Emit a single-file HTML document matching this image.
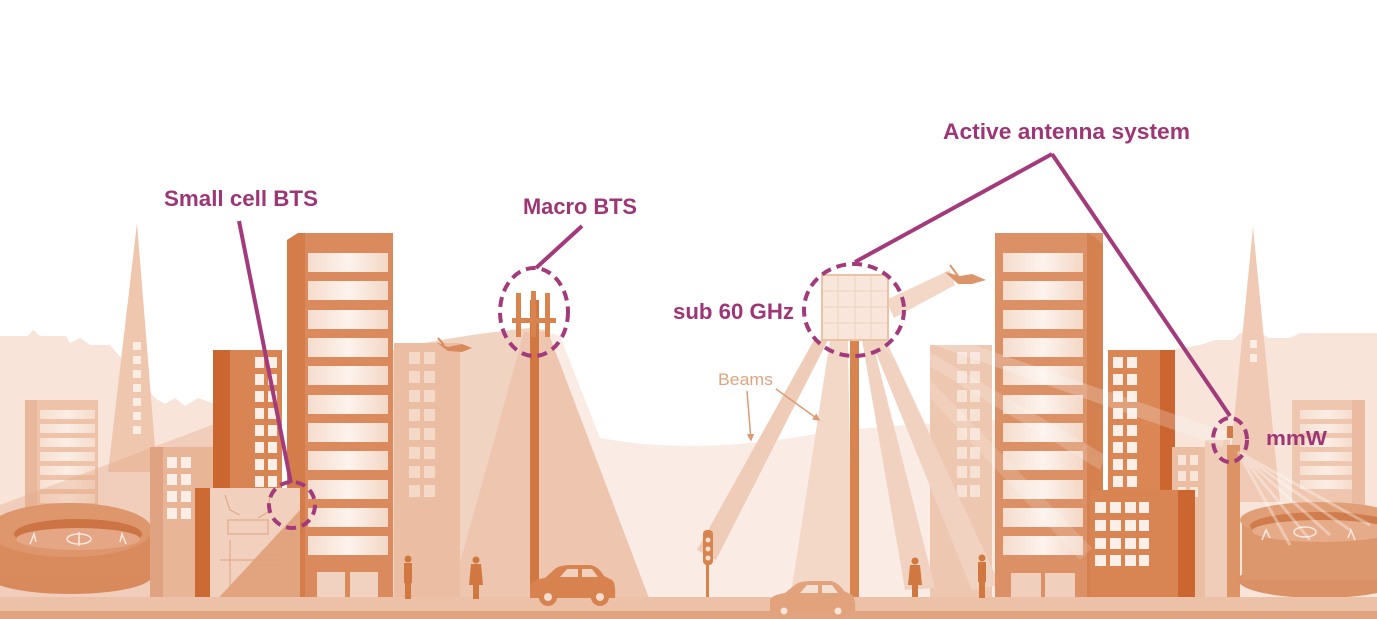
<!DOCTYPE html>
<html><head><meta charset="utf-8"><style>html,body{margin:0;padding:0;background:#fff;}svg{display:block}</style></head>
<body>
<svg width="1377" height="619" viewBox="0 0 1377 619" xmlns="http://www.w3.org/2000/svg">
<defs>
<linearGradient id="win" x1="0" x2="1"><stop offset="0" stop-color="#f5dccd"/><stop offset="0.5" stop-color="#fdf3ed"/><stop offset="1" stop-color="#f3d7c6"/></linearGradient>
<linearGradient id="winp" x1="0" x2="1"><stop offset="0" stop-color="#f6dfd1"/><stop offset="0.5" stop-color="#fbede5"/><stop offset="1" stop-color="#f5dccd"/></linearGradient>
<marker id="ah" viewBox="0 0 10 10" refX="8" refY="5" markerWidth="5" markerHeight="5" orient="auto"><path d="M0,0 L10,5 L0,10 Z" fill="#dc9a75"/></marker>
</defs>
<rect width="1377" height="619" fill="#fff"/>

<!-- far skyline left -->
<path d="M0,336 L28,336 L33,330 L40,336 L66,336 L70,343 L80,338 L90,345 L110,345 L140,380 L155,398 L165,404 L175,398 L185,406 L198,398 L215,404 L225,600 L0,600 Z" fill="#f8e4d9"/>
<!-- far skyline right -->
<path d="M1170,350 L1200,345 L1215,340 L1233,340 L1240,333 L1262,333 L1268,338 L1290,338 L1300,333 L1377,333 L1377,600 L1170,600 Z" fill="#f8e4d9"/>

<!-- pale hills middle -->
<path d="M540,330 L560,336 L600,438 Q700,456 820,433 Q900,424 1000,420 L1000,600 L540,600 Z" fill="#faece4"/>
<!-- hill left of macro -->
<path d="M393,350 Q450,336 530,328 L545,330 L545,600 L393,600 Z" fill="#f1d3c2"/>
<!-- macro beam -->
<path d="M524,332 L548,332 L652,606 L448,606 Z" fill="#eec6af"/>

<!-- left spire -->
<path d="M137,223 L157,472 L108,472 Z" fill="#efc6ae"/>
<g fill="#fbede4">
<rect x="133" y="342" width="8" height="8"/><rect x="133" y="356" width="8" height="8"/><rect x="133" y="370" width="8" height="8"/><rect x="133" y="384" width="8" height="8"/><rect x="133" y="398" width="8" height="8"/><rect x="133" y="412" width="8" height="8"/><rect x="133" y="426" width="8" height="8"/>
</g>
<!-- left small building -->
<rect x="25" y="400" width="73" height="110" fill="#eec3aa"/>
<rect x="25" y="400" width="12" height="110" fill="#e9b89c"/>
<g fill="url(#winp)">
<rect x="40" y="410" width="55" height="9"/><rect x="40" y="424" width="55" height="9"/><rect x="40" y="438" width="55" height="9"/><rect x="40" y="452" width="55" height="9"/><rect x="40" y="466" width="55" height="9"/><rect x="40" y="480" width="55" height="9"/><rect x="40" y="494" width="55" height="9"/>
</g>
<!-- diagonal hill shading left -->
<path d="M0,505 L225,420 L225,600 L0,600 Z" fill="#e2a584" opacity="0.35"/>

<!-- left stadium -->
<ellipse cx="70" cy="576" rx="82" ry="18" fill="#d88a5d"/>
<rect x="-12" y="530" width="164" height="46" fill="#d98b5e"/>
<ellipse cx="70" cy="530" rx="82" ry="27" fill="#de976d"/>
<ellipse cx="78" cy="534" rx="64" ry="15" fill="#cd7444"/>
<ellipse cx="78" cy="539" rx="62" ry="11" fill="#e4a684"/>
<g stroke="#fbe9df" stroke-width="1.5" fill="none">
<ellipse cx="79" cy="539" rx="12" ry="5"/><line x1="79" y1="532" x2="79" y2="546"/>
<path d="M30,544 L34,534 L36,542"/><path d="M126,544 L122,534 L120,542"/>
</g>

<!-- building 150-218 -->
<rect x="150" y="447" width="68" height="155" fill="#e8b596"/>
<rect x="150" y="447" width="13" height="155" fill="#e0a381"/>
<g fill="#fbeee6">
<rect x="167" y="457" width="10" height="11"/><rect x="181" y="457" width="10" height="11"/>
<rect x="167" y="474" width="10" height="11"/><rect x="181" y="474" width="10" height="11"/>
<rect x="167" y="491" width="10" height="11"/><rect x="181" y="491" width="10" height="11"/>
<rect x="167" y="508" width="10" height="11"/><rect x="181" y="508" width="10" height="11"/>
</g>

<!-- dark building 213-282 -->
<rect x="213" y="350" width="69" height="252" fill="#d98553"/>
<rect x="213" y="350" width="17" height="252" fill="#cc6630"/>
<g fill="#fbefe8">
<rect x="255" y="357" width="9" height="11"/><rect x="268" y="357" width="9" height="11"/>
<rect x="255" y="374" width="9" height="11"/><rect x="268" y="374" width="9" height="11"/>
<rect x="255" y="391" width="9" height="11"/><rect x="268" y="391" width="9" height="11"/>
<rect x="255" y="408" width="9" height="11"/><rect x="268" y="408" width="9" height="11"/>
<rect x="255" y="425" width="9" height="11"/><rect x="268" y="425" width="9" height="11"/>
<rect x="255" y="442" width="9" height="11"/><rect x="268" y="442" width="9" height="11"/>
<rect x="255" y="459" width="9" height="11"/><rect x="268" y="459" width="9" height="11"/>
<rect x="255" y="476" width="9" height="11"/><rect x="268" y="476" width="9" height="11"/>
</g>

<!-- tall building left -->
<path d="M287,240 L298,233 L393,233 L393,602 L287,602 Z" fill="#da8a5c"/>
<path d="M287,240 L298,233 L305,233 L305,602 L287,602 Z" fill="#d47d4a"/>
<g fill="url(#win)">
<rect x="308" y="253" width="80" height="19"/><rect x="308" y="281" width="80" height="19"/><rect x="308" y="310" width="80" height="19"/><rect x="308" y="338" width="80" height="19"/><rect x="308" y="366" width="80" height="19"/><rect x="308" y="395" width="80" height="19"/><rect x="308" y="423" width="80" height="19"/><rect x="308" y="451" width="80" height="19"/><rect x="308" y="480" width="80" height="19"/><rect x="308" y="508" width="80" height="19"/><rect x="308" y="536" width="80" height="19"/>
</g>
<rect x="317" y="572" width="28" height="30" fill="#f1d2c0"/><rect x="350" y="572" width="28" height="30" fill="#f1d2c0"/>

<!-- glass storefront -->
<rect x="195" y="488" width="105" height="117" fill="#f1d1be"/>
<rect x="195" y="488" width="15" height="117" fill="#cc6a33"/>
<path d="M300,510 L300,605 L212,605 Z" fill="#e2a47f"/>
<g stroke="#dfa07c" stroke-width="1.2" fill="none" opacity="0.8">
<path d="M225,495 L230,510 L240,515"/><path d="M270,495 L268,512 L258,518"/>
<rect x="228" y="520" width="40" height="14"/><line x1="220" y1="560" x2="285" y2="560"/><line x1="230" y1="540" x2="230" y2="590"/>
</g>

<!-- building 393-460 -->
<rect x="394" y="343" width="66" height="259" fill="#ebbea3"/>
<g fill="#f4d8c8">
<rect x="409" y="352" width="11" height="12"/><rect x="424" y="352" width="11" height="12"/>
<rect x="409" y="371" width="11" height="12"/><rect x="424" y="371" width="11" height="12"/>
<rect x="409" y="390" width="11" height="12"/><rect x="424" y="390" width="11" height="12"/>
<rect x="409" y="409" width="11" height="12"/><rect x="424" y="409" width="11" height="12"/>
<rect x="409" y="428" width="11" height="12"/><rect x="424" y="428" width="11" height="12"/>
<rect x="409" y="447" width="11" height="12"/><rect x="424" y="447" width="11" height="12"/>
<rect x="409" y="466" width="11" height="12"/><rect x="424" y="466" width="11" height="12"/>
<rect x="409" y="485" width="11" height="12"/><rect x="424" y="485" width="11" height="12"/>
</g>
<!-- drone left -->
<path d="M436,342 L448,347 L462,344 L472,348 L462,352 L448,351 Z" fill="#d9895b"/>
<path d="M438,338 L444,345" stroke="#d9895b" stroke-width="2"/>

<!-- right light building behind -->
<rect x="930" y="345" width="62" height="257" fill="#eec7b0"/>
<g fill="#f7e2d6">
<rect x="957" y="352" width="10" height="12"/><rect x="970" y="352" width="10" height="12"/>
<rect x="957" y="371" width="10" height="12"/><rect x="970" y="371" width="10" height="12"/>
<rect x="957" y="390" width="10" height="12"/><rect x="970" y="390" width="10" height="12"/>
<rect x="957" y="409" width="10" height="12"/><rect x="970" y="409" width="10" height="12"/>
<rect x="957" y="428" width="10" height="12"/><rect x="970" y="428" width="10" height="12"/>
<rect x="957" y="447" width="10" height="12"/><rect x="970" y="447" width="10" height="12"/>
<rect x="957" y="466" width="10" height="12"/><rect x="970" y="466" width="10" height="12"/>
<rect x="957" y="485" width="10" height="12"/><rect x="970" y="485" width="10" height="12"/>
</g>

<!-- AAS beams -->
<path d="M814,340 L828,340 L716,560 L697,550 Z" fill="#efccb8"/>
<path d="M830,340 L848,340 L852,600 L790,600 Z" fill="#f3d8c8"/>
<path d="M862,340 L872,340 L935,588 L905,590 Z" fill="#f1d2c0"/>
<path d="M870,338 L884,336 L1000,585 L972,590 Z" fill="#f1d2c0"/>
<path d="M886,300 L950,270 L955,285 L894,318 Z" fill="#f3d7c7"/>

<!-- right spire -->
<path d="M1253,227 L1280,502 L1226,502 Z" fill="#f0cab4"/>
<rect x="1250" y="340" width="7" height="8" fill="#fbede4"/><rect x="1250" y="354" width="7" height="8" fill="#fbede4"/>
<!-- right far building -->
<rect x="1292" y="400" width="73" height="105" fill="#efc7b0"/>
<rect x="1352" y="400" width="13" height="105" fill="#eabba0"/>
<g fill="url(#winp)">
<rect x="1300" y="410" width="52" height="9"/><rect x="1300" y="424" width="52" height="9"/><rect x="1300" y="438" width="52" height="9"/><rect x="1300" y="452" width="52" height="9"/><rect x="1300" y="466" width="52" height="9"/><rect x="1300" y="480" width="52" height="9"/>
</g>

<!-- tall building right -->
<rect x="995" y="233" width="108" height="369" fill="#dc9066"/>
<path d="M1087,233 L1095,237 L1103,245 L1103,602 L1087,602 Z" fill="#d4804f"/>
<g fill="url(#win)">
<rect x="1003" y="253" width="80" height="19"/><rect x="1003" y="281" width="80" height="19"/><rect x="1003" y="310" width="80" height="19"/><rect x="1003" y="338" width="80" height="19"/><rect x="1003" y="366" width="80" height="19"/><rect x="1003" y="395" width="80" height="19"/><rect x="1003" y="423" width="80" height="19"/><rect x="1003" y="451" width="80" height="19"/><rect x="1003" y="480" width="80" height="19"/><rect x="1003" y="508" width="80" height="19"/><rect x="1003" y="536" width="80" height="19"/>
</g>
<rect x="1011" y="573" width="30" height="29" fill="#f0cfbc"/><rect x="1045" y="573" width="30" height="29" fill="#f0cfbc"/>

<!-- building 1108-1175 -->
<rect x="1108" y="350" width="67" height="252" fill="#da8655"/>
<rect x="1160" y="350" width="15" height="252" fill="#cb6630"/>
<g fill="#fbefe8">
<rect x="1113" y="357" width="10" height="11"/><rect x="1127" y="357" width="10" height="11"/>
<rect x="1113" y="374" width="10" height="11"/><rect x="1127" y="374" width="10" height="11"/>
<rect x="1113" y="391" width="10" height="11"/><rect x="1127" y="391" width="10" height="11"/>
<rect x="1113" y="408" width="10" height="11"/><rect x="1127" y="408" width="10" height="11"/>
<rect x="1113" y="425" width="10" height="11"/><rect x="1127" y="425" width="10" height="11"/>
<rect x="1113" y="442" width="10" height="11"/><rect x="1127" y="442" width="10" height="11"/>
<rect x="1113" y="459" width="10" height="11"/><rect x="1127" y="459" width="10" height="11"/>
<rect x="1113" y="476" width="10" height="11"/><rect x="1127" y="476" width="10" height="11"/>
</g>
<!-- building 1172-1215 light -->
<rect x="1172" y="447" width="45" height="155" fill="#ebbda2"/>
<g fill="#f8e4d8">
<rect x="1178" y="455" width="8" height="10"/><rect x="1190" y="455" width="8" height="10"/>
<rect x="1178" y="471" width="8" height="10"/><rect x="1190" y="471" width="8" height="10"/>
<rect x="1178" y="487" width="8" height="10"/><rect x="1190" y="487" width="8" height="10"/>
</g>
<!-- lower right building -->
<rect x="1090" y="490" width="105" height="112" fill="#d98453"/>
<rect x="1178" y="490" width="17" height="112" fill="#cb6630"/>
<g fill="#fbefe8">
<rect x="1095" y="502" width="11" height="11"/><rect x="1110" y="502" width="11" height="11"/><rect x="1125" y="502" width="11" height="11"/><rect x="1139" y="502" width="10" height="11"/>
<rect x="1095" y="520" width="11" height="11"/><rect x="1110" y="520" width="11" height="11"/><rect x="1125" y="520" width="11" height="11"/><rect x="1139" y="520" width="10" height="11"/>
<rect x="1095" y="538" width="11" height="11"/><rect x="1110" y="538" width="11" height="11"/><rect x="1125" y="538" width="11" height="11"/><rect x="1139" y="538" width="10" height="11"/>
<rect x="1095" y="555" width="11" height="11"/><rect x="1110" y="555" width="11" height="11"/><rect x="1125" y="555" width="11" height="11"/><rect x="1139" y="555" width="10" height="11"/>
</g>

<!-- mmW pole -->
<rect x="1205" y="440" width="25" height="162" fill="#efcdb9"/>
<rect x="1227" y="445" width="13" height="157" fill="#dc9467"/>
<rect x="1227" y="426" width="6" height="12" fill="#d07a48"/>

<!-- right stadium -->
<ellipse cx="1320" cy="580" rx="82" ry="18" fill="#da9166"/>
<rect x="1242" y="520" width="140" height="60" fill="#dc976d"/>
<ellipse cx="1320" cy="520" rx="80" ry="18" fill="#e19f78"/>
<ellipse cx="1322" cy="526" rx="72" ry="14" fill="#d07c4c"/>
<ellipse cx="1322" cy="531" rx="70" ry="11" fill="#e6ab89"/>
<g stroke="#fbe9df" stroke-width="1.5" fill="none">
<ellipse cx="1305" cy="532" rx="11" ry="5"/><path d="M1262,540 L1266,530 L1270,538"/><path d="M1355,540 L1351,530 L1348,538"/>
</g>

<!-- light beams overlays -->
<path d="M895,318 L900,333 L1222,447 L1226,432 Z" fill="#fff" opacity="0.22"/>
<path d="M892,330 L890,342 L1100,470 L1105,455 Z" fill="#fff" opacity="0.18"/>
<path d="M888,336 L882,346 L1080,560 L1092,548 Z" fill="#fff" opacity="0.15"/>
<g stroke="#fff" stroke-width="3" opacity="0.35">
<line x1="1238" y1="452" x2="1310" y2="540"/><line x1="1238" y1="452" x2="1330" y2="535"/><line x1="1238" y1="452" x2="1350" y2="530"/><line x1="1238" y1="452" x2="1370" y2="525"/><line x1="1238" y1="452" x2="1290" y2="545"/>
</g>

<!-- macro pole & antenna -->
<rect x="530" y="300" width="9" height="302" fill="#d0783f"/>
<g fill="#d9844f">
<rect x="516" y="293" width="5" height="44"/><rect x="531" y="291" width="5" height="46"/><rect x="545" y="293" width="5" height="44"/>
<rect x="512" y="318" width="44" height="5"/>
</g>

<!-- AAS panel & pole -->
<rect x="850" y="338" width="9" height="264" fill="#d7844f"/>
<rect x="822" y="275" width="66" height="65" fill="#f9e6da" stroke="#ecc2a7" stroke-width="2"/>
<g stroke="#f0d1bd" stroke-width="1">
<line x1="838" y1="276" x2="838" y2="339"/><line x1="855" y1="276" x2="855" y2="339"/><line x1="871" y1="276" x2="871" y2="339"/>
<line x1="823" y1="291" x2="887" y2="291"/><line x1="823" y1="307" x2="887" y2="307"/><line x1="823" y1="323" x2="887" y2="323"/>
</g>
<!-- drone right -->
<path d="M945,272 L960,276 L972,274 L986,280 L972,284 L958,284 Z" fill="#dc956b"/>
<path d="M950,265 L958,276" stroke="#dc956b" stroke-width="2"/>

<!-- traffic light -->
<rect x="706" y="560" width="3" height="47" fill="#d7844f"/>
<rect x="703" y="530" width="10" height="35" rx="4" fill="#d7844f"/>
<circle cx="708" cy="540" r="2.5" fill="#f7e0d2"/><circle cx="708" cy="549" r="2.5" fill="#f7e0d2"/><circle cx="708" cy="558" r="2.5" fill="#f7e0d2"/>

<!-- ground -->
<rect x="0" y="597" width="1377" height="15" fill="#edc1a7"/>
<rect x="0" y="611" width="1377" height="8" fill="#e2a480"/>

<!-- people -->
<g fill="#d0783f">
<circle cx="408" cy="559" r="3.5"/><rect x="404" y="563" width="8" height="20"/><rect x="405" y="583" width="6" height="16"/>
<circle cx="476" cy="560" r="3.5"/><path d="M471,564 L481,564 L483,585 L469,585 Z"/><rect x="473" y="585" width="6" height="14"/>
<circle cx="915" cy="561" r="3.5"/><path d="M910,565 L920,565 L922,585 L908,585 Z"/><rect x="912" y="585" width="6" height="12"/>
<circle cx="982" cy="558" r="3.5"/><rect x="978" y="562" width="8" height="20"/><rect x="979" y="582" width="6" height="16"/>
</g>

<!-- cars -->
<g fill="#d7824f">
<path d="M530,598 L530,585 Q532,580 545,578 L556,568 Q561,565 571,565 L590,565 Q598,566 604,576 L612,580 Q616,583 615,598 Z"/>
<circle cx="548" cy="597" r="9"/><circle cx="600" cy="597" r="9"/>
</g>
<path d="M560,577 L567,569 L578,569 L578,577 Z M582,577 L582,569 L592,569 L598,577 Z" fill="#f1d0bd"/>
<circle cx="548" cy="597" r="4" fill="#f6dccd"/><circle cx="600" cy="597" r="4" fill="#f6dccd"/>
<g fill="#e1a27c">
<path d="M770,612 L770,600 Q772,595 785,593 L796,584 Q801,581 811,581 L830,581 Q838,582 844,591 L852,595 Q856,598 855,612 Z"/>
<circle cx="784" cy="611" r="8"/><circle cx="838" cy="611" r="8"/>
</g>
<path d="M800,593 L807,585 L818,585 L818,593 Z M822,593 L822,585 L832,585 L838,593 Z" fill="#f6e0d3"/>
<circle cx="784" cy="611" r="3.5" fill="#f8e5da"/><circle cx="838" cy="611" r="3.5" fill="#f8e5da"/>

<!-- Beams label -->
<text x="718" y="385" font-family="'Liberation Sans Narrow','Liberation Sans',sans-serif" font-size="17" fill="#e2a37f" textLength="55" lengthAdjust="spacingAndGlyphs">Beams</text>
<line x1="747" y1="391" x2="751" y2="440" stroke="#dc9a75" stroke-width="1.5" marker-end="url(#ah)"/>
<line x1="776" y1="389" x2="819" y2="420" stroke="#dc9a75" stroke-width="1.5" marker-end="url(#ah)"/>

<!-- annotations -->
<g stroke="#a23a7b" stroke-width="4" fill="none">
<line x1="239" y1="221" x2="291" y2="483"/>
<line x1="582" y1="226" x2="536" y2="268"/>
<line x1="1052" y1="154" x2="855" y2="262"/>
<line x1="1052" y1="154" x2="1230" y2="416"/>
</g>
<g stroke="#a23a7b" stroke-width="4" fill="none" stroke-dasharray="10 6">
<circle cx="292" cy="505" r="23"/>
<ellipse cx="534" cy="312" rx="34" ry="44"/>
<ellipse cx="854" cy="310" rx="50" ry="46"/>
<ellipse cx="1230" cy="440" rx="17" ry="22"/>
</g>
<g font-family="'Liberation Sans',sans-serif" font-weight="bold" fill="#9e3676" font-size="22">
<text x="164" y="206" textLength="154" lengthAdjust="spacingAndGlyphs">Small cell BTS</text>
<text x="523" y="214" textLength="114" lengthAdjust="spacingAndGlyphs">Macro BTS</text>
<text x="943" y="139" textLength="247" lengthAdjust="spacingAndGlyphs">Active antenna system</text>
<text x="673" y="319" textLength="121" lengthAdjust="spacingAndGlyphs">sub 60 GHz</text>
<text x="1266" y="445" font-size="20" textLength="61" lengthAdjust="spacingAndGlyphs">mmW</text>
</g>
</svg>
</body></html>
